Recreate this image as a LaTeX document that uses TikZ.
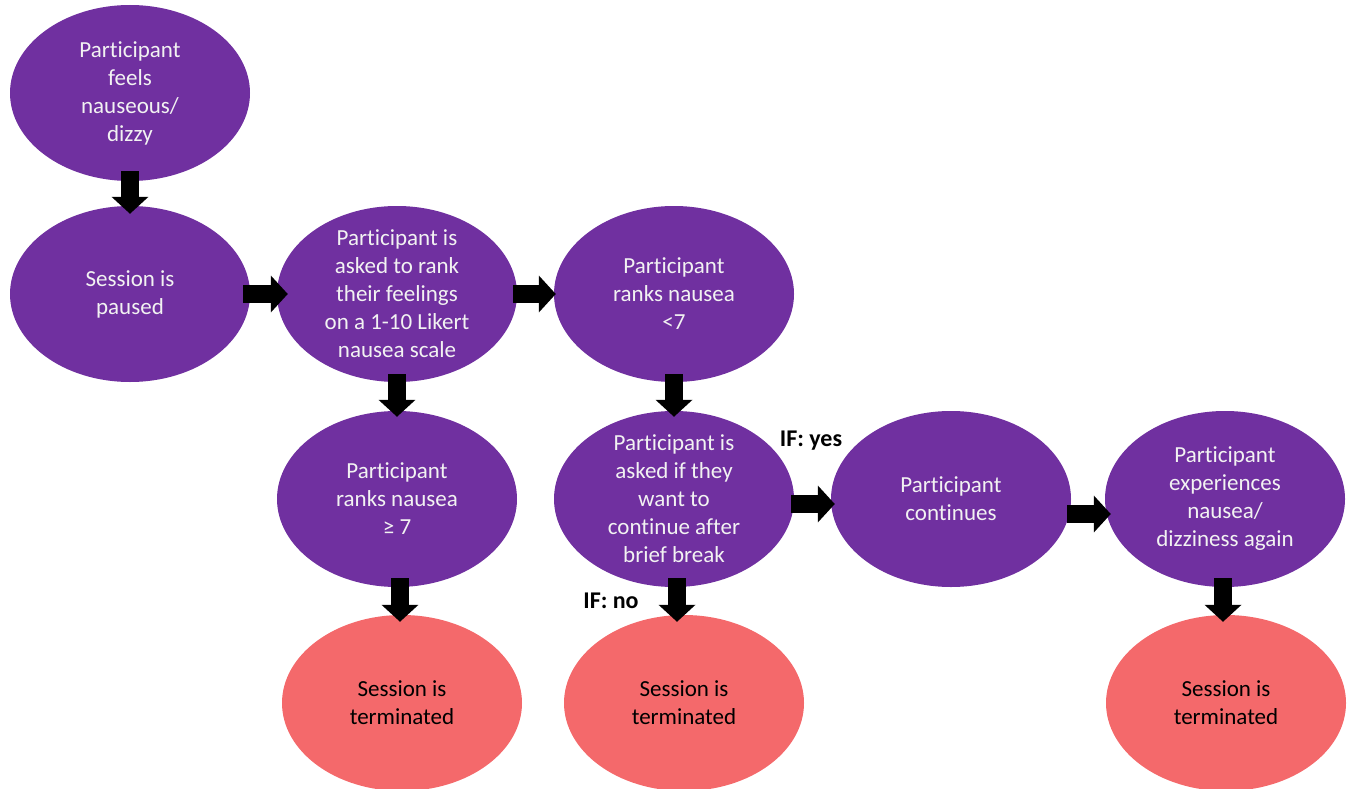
\documentclass[tikz,border=0pt]{standalone}
\usepackage{fontspec}
\setmainfont{Carlito}[Ligatures={NoCommon}]
\usetikzlibrary{shapes.geometric,arrows.meta}
\definecolor{pur}{HTML}{7030A0}
\definecolor{redfill}{HTML}{F4696B}
\definecolor{ltxt}{HTML}{F2F2F2}
\tikzset{
 base/.style={ellipse, minimum width=240pt, minimum height=176pt, inner sep=-40pt, align=center, font=\fontsize{23}{28}\selectfont},
 purp/.style={base, fill=pur, text=ltxt},
 term/.style={base, fill=redfill, text=black},
 blk/.style={line width=18pt, -{Triangle[length=17pt,width=36pt]}},
 iflabel/.style={font=\fontsize{24}{28}\selectfont\bfseries, text=black}
}
\begin{document}
\begin{tikzpicture}[x=1pt,y=-1pt]
\path[use as bounding box] (0,0) rectangle (1349,789);
\node[purp] (e1) at (130,93) {Participant\\feels\\nauseous/\\dizzy};
\node[purp] (e2) at (130,294) {Session is\\paused};
\node[purp] (e3) at (397,294) {Participant is\\asked to rank\\their feelings\\on a 1-10 Likert\\nausea scale};
\node[purp] (e4) at (674,294) {Participant\\ranks nausea\\<7};
\node[purp] (e5) at (397,499) {Participant\\ranks nausea\\≥ 7};
\node[purp] (e6) at (674,499) {Participant is\\asked if they\\want to\\continue after\\brief break};
\node[purp] (e7) at (951,499) {Participant\\continues};
\node[purp] (e8) at (1225,499) {Participant\\experiences\\nausea/\\dizziness again};
\node[term] (t1) at (402,703) {Session is\\terminated};
\node[term] (t2) at (684,703) {Session is\\terminated};
\node[term] (t3) at (1226,703) {Session is\\terminated};
\node[iflabel] (lyes) at (811,441) {IF: yes};
\node[iflabel] (lno) at (611,601) {IF: no};
\draw[blk] ([yshift=10pt]e1.south) -- ([yshift=-8pt]e2.north);
\draw[blk] ([xshift=-7pt]e2.east) -- ([xshift=11pt]e3.west);
\draw[blk] ([xshift=-4pt]e3.east) -- ([xshift=2pt]e4.west);
\draw[blk] ([yshift=8pt]e3.south) -- ([yshift=-6pt]e5.north);
\draw[blk] ([yshift=8pt]e4.south) -- ([yshift=-6pt]e6.north);
\draw[blk] ([xshift=3pt,yshift=9pt]e5.south) -- ([xshift=-2pt,yshift=-7pt]t1.north);
\draw[blk] ([xshift=3pt,yshift=9pt]e6.south) -- ([xshift=-7pt,yshift=-7pt]t2.north);
\draw[blk] ([xshift=-3pt,yshift=-5pt]e6.east) -- ([xshift=4pt,yshift=-5pt]e7.west);
\draw[blk] ([xshift=-4pt,yshift=-15pt]e7.east) -- ([xshift=6pt,yshift=-15pt]e8.west);
\draw[blk] ([xshift=-2pt,yshift=9pt]e8.south) -- ([xshift=-3pt,yshift=-7pt]t3.north);
\end{tikzpicture}
\end{document}
